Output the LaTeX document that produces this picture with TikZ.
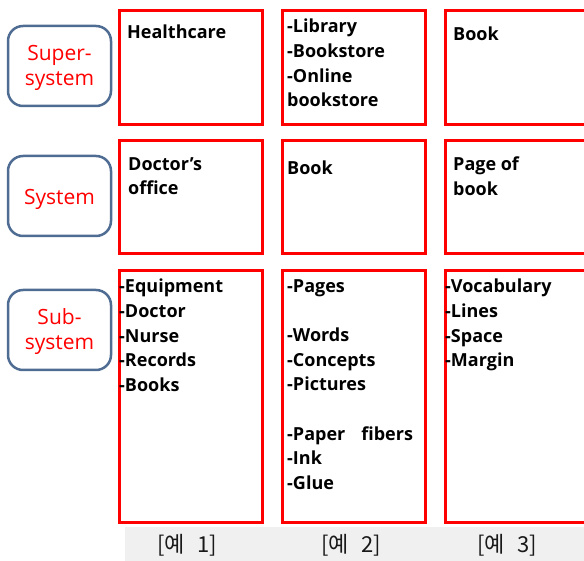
\documentclass[tikz,border=0pt]{standalone}
\usepackage{fontspec}
\setmainfont{Open Sans}
\newfontfamily\krfont{Noto Sans CJK KR}
\usetikzlibrary{positioning}
\definecolor{boxRed}{RGB}{255,0,0}
\definecolor{levelBlue}{RGB}{79,109,147}
\definecolor{stripGray}{RGB}{240,240,240}

\begin{document}
\begin{tikzpicture}[x=1pt, y=-1pt,
    cell/.style={draw=boxRed, line width=3pt, minimum width=143pt, anchor=north west, inner sep=0pt},
    level/.style={draw=levelBlue, line width=2.5pt, rounded corners=15pt, minimum width=103pt, minimum height=80pt},
    leveltext/.style={text=boxRed, align=center, inner sep=0pt, font=\fontsize{21}{25}\selectfont},
    items/.style={anchor=north west, inner sep=0pt, align=left, font=\fontsize{18}{24.7}\selectfont\bfseries,
        execute at begin node=\strut},
    example/.style={font=\krfont\fontsize{22}{26}\selectfont, text=black!90}]
    \clip (0,0) rectangle (584,561);

    % levels
    \node[level] (lvsup) at (59.5,66) {};
    \node[level] (lvsys) at (59.5,196) {};
    \node[level] (lvsub) at (59.5,330) {};
    \node[leveltext] (lsup) at ([yshift=-2pt]lvsup.center) {Super-\\system};
    \node[leveltext] (lsys) at ([yshift=-3pt]lvsys.center) {System};
    \node[leveltext] (lsub) at ([yshift=-2pt]lvsub.center) {Sub-\\system};

    % super-system row
    \node[cell, minimum height=114pt] (sup1) at (118,9) {};
    \node[cell, minimum height=114pt] (sup2) at (281,9) {};
    \node[cell, minimum height=114pt] (sup3) at (444,9) {};
    \node[items] (tsup1) at ([xshift=9pt, yshift=-12pt]sup1.north west) {Healthcare};
    \node[items] (tsup2) at ([xshift=6pt, yshift=-10pt]sup2.north west) {-Library\\-Bookstore\\-Online\\bookstore};
    \node[items] (tsup3) at ([xshift=9pt, yshift=-14pt]sup3.north west) {Book};

    % system row
    \node[cell, minimum height=113pt] (sys1) at (118,139) {};
    \node[cell, minimum height=113pt] (sys2) at (281,139) {};
    \node[cell, minimum height=113pt] (sys3) at (444,139) {};
    \node[items] (tsys1) at ([xshift=10pt, yshift=-18pt]sys1.north west) {Doctor’s\\office};
    \node[items] (tsys2) at ([xshift=6pt, yshift=-18pt]sys2.north west) {Book};
    \node[items] (tsys3) at ([xshift=9pt, yshift=-18pt]sys3.north west) {Page of\\book};

    % sub-system row
    \node[cell, minimum height=252pt] (sub1) at (118,269) {};
    \node[cell, minimum height=252pt] (sub2) at (281,269) {};
    \node[cell, minimum height=252pt] (sub3) at (444,269) {};
    \node[items] (tsub1) at ([xshift=1pt, yshift=-10pt]sub1.north west) {-Equipment\\-Doctor\\-Nurse\\-Records\\-Books};
    \node[items] (tsub2) at ([xshift=6pt, yshift=-10pt]sub2.north west)
        {-Pages\\[24.7pt]-Words\\-Concepts\\-Pictures\\[24.7pt]-Paper\hspace{16pt}fibers\\-Ink\\-Glue};
    \node[items] (tsub3) at ([xshift=1pt, yshift=-10pt]sub3.north west) {-Vocabulary\\-Lines\\-Space\\-Margin};

    % captions
    \fill[stripGray] (125,527) rectangle (584,561);
    \node[example] (ex1) at (187,545) {[예\hspace{12pt}1]};
    \node[example] (ex2) at (351,545) {[예\hspace{12pt}2]};
    \node[example] (ex3) at (507,545) {[예\hspace{12pt}3]};
\end{tikzpicture}
\end{document}
